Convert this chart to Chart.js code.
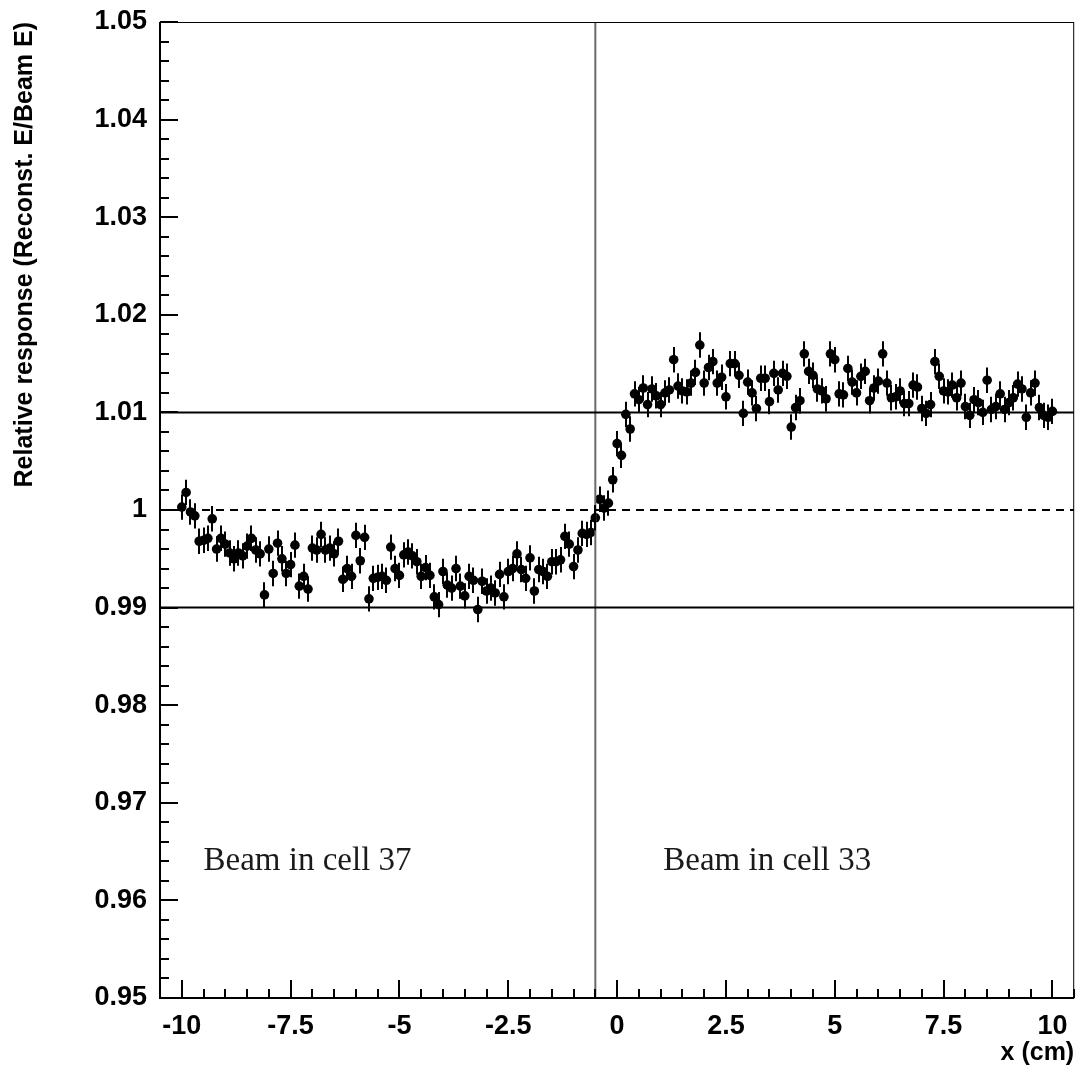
<!DOCTYPE html>
<html>
<head>
<meta charset="utf-8">
<script src="https://cdn.jsdelivr.net/npm/chart.js@4.4.1/dist/chart.umd.min.js"></script>
<style>
  html, body { margin: 0; padding: 0; background: #fff; }
  canvas { display: block; }
</style>
</head>
<body>
<canvas id="c" width="1079" height="1068"></canvas>
<script>
// Beam impact position across the cell boundary (cm)
const xPositions = [
  -10.0, -9.9, -9.8, -9.7, -9.6, -9.5, -9.4, -9.3, -9.2, -9.1,
  -9.0, -8.9, -8.8, -8.7, -8.6, -8.5, -8.4, -8.3, -8.2, -8.1,
  -8.0, -7.9, -7.8, -7.7, -7.6, -7.5, -7.4, -7.3, -7.2, -7.1,
  -7.0, -6.9, -6.8, -6.7, -6.6, -6.5, -6.4, -6.3, -6.2, -6.1,
  -6.0, -5.9, -5.8, -5.7, -5.6, -5.5, -5.4, -5.3, -5.2, -5.1,
  -5.0, -4.9, -4.8, -4.7, -4.6, -4.5, -4.4, -4.3, -4.2, -4.1,
  -4.0, -3.9, -3.8, -3.7, -3.6, -3.5, -3.4, -3.3, -3.2, -3.1,
  -3.0, -2.9, -2.8, -2.7, -2.6, -2.5, -2.4, -2.3, -2.2, -2.1,
  -2.0, -1.9, -1.8, -1.7, -1.6, -1.5, -1.4, -1.3, -1.2, -1.1,
  -1.0, -0.9, -0.8, -0.7, -0.6, -0.5, -0.4, -0.3, -0.2, -0.1,
  0.0, 0.1, 0.2, 0.3, 0.4, 0.5, 0.6, 0.7, 0.8, 0.9,
  1.0, 1.1, 1.2, 1.3, 1.4, 1.5, 1.6, 1.7, 1.8, 1.9,
  2.0, 2.1, 2.2, 2.3, 2.4, 2.5, 2.6, 2.7, 2.8, 2.9,
  3.0, 3.1, 3.2, 3.3, 3.4, 3.5, 3.6, 3.7, 3.8, 3.9,
  4.0, 4.1, 4.2, 4.3, 4.4, 4.5, 4.6, 4.7, 4.8, 4.9,
  5.0, 5.1, 5.2, 5.3, 5.4, 5.5, 5.6, 5.7, 5.8, 5.9,
  6.0, 6.1, 6.2, 6.3, 6.4, 6.5, 6.6, 6.7, 6.8, 6.9,
  7.0, 7.1, 7.2, 7.3, 7.4, 7.5, 7.6, 7.7, 7.8, 7.9,
  8.0, 8.1, 8.2, 8.3, 8.4, 8.5, 8.6, 8.7, 8.8, 8.9,
  9.0, 9.1, 9.2, 9.3, 9.4, 9.5, 9.6, 9.7, 9.8, 9.9,
  10.0
];

// Reconstructed energy divided by beam energy at each position
const relativeResponse = [
  1.0003, 1.0018, 0.9998, 0.9994, 0.9968, 0.9969, 0.9971, 0.9991, 0.9960, 0.9971,
  0.9965, 0.9956, 0.9950, 0.9956, 0.9953, 0.9963, 0.9971, 0.9959, 0.9955, 0.9913,
  0.9960, 0.9935, 0.9966, 0.9950, 0.9935, 0.9944, 0.9964, 0.9922, 0.9932, 0.9919,
  0.9961, 0.9959, 0.9975, 0.9959, 0.9961, 0.9955, 0.9968, 0.9929, 0.9940, 0.9932,
  0.9974, 0.9948, 0.9972, 0.9909, 0.9930, 0.9931, 0.9932, 0.9928, 0.9962, 0.9940,
  0.9933, 0.9954, 0.9957, 0.9953, 0.9947, 0.9932, 0.9941, 0.9933, 0.9911, 0.9903,
  0.9937, 0.9923, 0.9920, 0.9940, 0.9922, 0.9912, 0.9932, 0.9928, 0.9898, 0.9927,
  0.9917, 0.9920, 0.9915, 0.9934, 0.9911, 0.9937, 0.9940, 0.9955, 0.9939, 0.9930,
  0.9951, 0.9917, 0.9939, 0.9937, 0.9932, 0.9947, 0.9947, 0.9949, 0.9973, 0.9965,
  0.9942, 0.9959, 0.9976, 0.9975, 0.9977, 0.9992, 1.0011, 1.0002, 1.0007, 1.0031,
  1.0068, 1.0056, 1.0098, 1.0083, 1.0119, 1.0113, 1.0125, 1.0108, 1.0124, 1.0117,
  1.0108, 1.0120, 1.0123, 1.0154, 1.0127, 1.0122, 1.0121, 1.0130, 1.0141, 1.0169,
  1.0130, 1.0146, 1.0152, 1.0130, 1.0136, 1.0116, 1.0150, 1.0150, 1.0138, 1.0099,
  1.0131, 1.0120, 1.0104, 1.0135, 1.0135, 1.0111, 1.0140, 1.0123, 1.0140, 1.0137,
  1.0085, 1.0105, 1.0112, 1.0160, 1.0142, 1.0138, 1.0124, 1.0122, 1.0114, 1.0160,
  1.0154, 1.0119, 1.0118, 1.0145, 1.0131, 1.0120, 1.0137, 1.0142, 1.0112, 1.0125,
  1.0132, 1.0160, 1.0130, 1.0115, 1.0116, 1.0122, 1.0109, 1.0109, 1.0128, 1.0126,
  1.0104, 1.0099, 1.0108, 1.0152, 1.0137, 1.0122, 1.0121, 1.0128, 1.0115, 1.0130,
  1.0106, 1.0097, 1.0113, 1.0110, 1.0100, 1.0133, 1.0103, 1.0106, 1.0119, 1.0103,
  1.0110, 1.0115, 1.0129, 1.0124, 1.0095, 1.0120, 1.0130, 1.0105, 1.0097, 1.0095,
  1.0101
];

// Statistical uncertainty on each point
const responseError = 0.0013;

const xTickValues = [-10, -7.5, -5, -2.5, 0, 2.5, 5, 7.5, 10];
const yTickValues = [0.95, 0.96, 0.97, 0.98, 0.99, 1.0, 1.01, 1.02, 1.03, 1.04, 1.05];
const xRange = [-10.5, 10.5];
const yRange = [0.95, 1.05];

// ±1% band and unit response
const bandLevels = [0.99, 1.01];
const unityLevel = 1.0;
// Boundary between cells 37 and 33
const cellBoundary = -0.5;

const cellLabels = ['Beam in cell 37', 'Beam in cell 33'];
const cellLabelX = [-9.5, 1.06];
const cellLabelY = [0.9631, 0.9631];

const points = xPositions.map((x, i) => ({ x: x, y: relativeResponse[i] }));

const hLine = (level) => [{ x: xRange[0], y: level }, { x: xRange[1], y: level }];

// Vertical error bars drawn through the y scale
const errorBars = {
  id: 'errorBars',
  afterDatasetsDraw(chart) {
    const { ctx, scales: { x, y } } = chart;
    ctx.save();
    ctx.strokeStyle = '#000';
    ctx.lineWidth = 2;
    ctx.beginPath();
    points.forEach(p => {
      const px = Math.round(x.getPixelForValue(p.x));
      ctx.moveTo(px, y.getPixelForValue(p.y - responseError));
      ctx.lineTo(px, y.getPixelForValue(p.y + responseError));
    });
    ctx.stroke();
    ctx.restore();
  }
};

// Frame with inward tick marks, plus the cell labels
const frameAndText = {
  id: 'frameAndText',
  afterDraw(chart) {
    const { ctx, chartArea: a, scales: { x, y } } = chart;
    ctx.save();
    ctx.strokeStyle = '#000';
    ctx.lineWidth = 1;
    ctx.strokeRect(a.left + 0.5, a.top + 0.5, a.right - a.left - 1, a.bottom - a.top - 1);
    ctx.lineWidth = 2;
    ctx.beginPath();
    ctx.moveTo(a.left, a.top);
    ctx.lineTo(a.left, a.bottom);
    ctx.lineTo(a.right, a.bottom);
    ctx.stroke();

    ctx.lineWidth = 2;
    ctx.beginPath();
    // x axis: minor every 0.5, major at labelled values
    for (let v = -10.5; v <= 10.5 + 1e-9; v += 0.5) {
      const px = Math.round(x.getPixelForValue(v));
      const major = xTickValues.some(t => Math.abs(t - v) < 1e-6);
      ctx.moveTo(px, a.bottom);
      ctx.lineTo(px, a.bottom - (major ? 18 : 9));
    }
    // y axis: minor every 0.002, major every 0.01
    for (let k = 0; k <= 50; k++) {
      const v = yRange[0] + k * 0.002;
      const py = Math.round(y.getPixelForValue(v));
      const major = k % 5 === 0;
      ctx.moveTo(a.left, py);
      ctx.lineTo(a.left + (major ? 18 : 9), py);
    }
    ctx.stroke();

    ctx.fillStyle = '#1a1a1a';
    ctx.font = '33px "Liberation Serif", "DejaVu Serif", serif';
    ctx.textBaseline = 'alphabetic';
    ctx.textAlign = 'left';
    cellLabels.forEach((t, i) => {
      ctx.fillText(t, x.getPixelForValue(cellLabelX[i]), y.getPixelForValue(cellLabelY[i]));
    });
    ctx.restore();
  }
};

const tickFont = { family: '"Liberation Sans", Arial, sans-serif', size: 27, weight: 'bold' };
const titleFont = { family: '"Liberation Sans", Arial, sans-serif', size: 25, weight: 'bold' };

new Chart(document.getElementById('c'), {
  type: 'scatter',
  data: {
    datasets: [
      {
        type: 'line', data: hLine(bandLevels[0]), borderColor: '#000', borderWidth: 2,
        pointRadius: 0, fill: false
      },
      {
        type: 'line', data: hLine(bandLevels[1]), borderColor: '#000', borderWidth: 2,
        pointRadius: 0, fill: false
      },
      {
        type: 'line', data: hLine(unityLevel), borderColor: '#000', borderWidth: 2,
        borderDash: [8, 6], pointRadius: 0, fill: false
      },
      {
        type: 'line',
        data: [{ x: cellBoundary, y: yRange[0] }, { x: cellBoundary, y: yRange[1] }],
        borderColor: '#6a6a6a', borderWidth: 2, pointRadius: 0, fill: false
      },
      {
        type: 'scatter', data: points,
        pointRadius: 4.8, pointBackgroundColor: '#000', pointBorderColor: '#000',
        pointBorderWidth: 0, pointHoverRadius: 4.8
      }
    ]
  },
  options: {
    responsive: false,
    animation: false,
    devicePixelRatio: 1,
    layout: { padding: { top: 22, right: 3, left: 0, bottom: 0 } },
    plugins: { legend: { display: false }, tooltip: { enabled: false } },
    scales: {
      x: {
        type: 'linear', min: xRange[0], max: xRange[1],
        grid: { display: false, drawTicks: false },
        border: { display: false },
        afterBuildTicks: s => { s.ticks = xTickValues.map(v => ({ value: v })); },
        afterFit: s => { s.height = 70; s.paddingLeft = 0; s.paddingRight = 0; },
        ticks: {
          color: '#000', font: tickFont, padding: 12, maxRotation: 0, autoSkip: false,
          callback: v => String(v)
        },
        title: {
          display: true, text: 'x (cm)', align: 'end', color: '#000',
          font: titleFont, padding: { top: 0, bottom: 0 }
        }
      },
      y: {
        type: 'linear', min: yRange[0], max: yRange[1],
        grid: { display: false, drawTicks: false },
        border: { display: false },
        afterBuildTicks: s => { s.ticks = yTickValues.map(v => ({ value: v })); },
        afterFit: s => { s.width = 160; s.paddingTop = 0; s.paddingBottom = 0; },
        ticks: {
          color: '#000', font: tickFont, padding: 13, autoSkip: false,
          callback: v => String(Number(v.toFixed(2)))
        },
        title: {
          display: true, text: 'Relative response (Reconst. E/Beam E)', align: 'end',
          color: '#000', font: titleFont, padding: { top: 10, bottom: 0 }
        }
      }
    }
  },
  plugins: [errorBars, frameAndText]
});
</script>
</body>
</html>
